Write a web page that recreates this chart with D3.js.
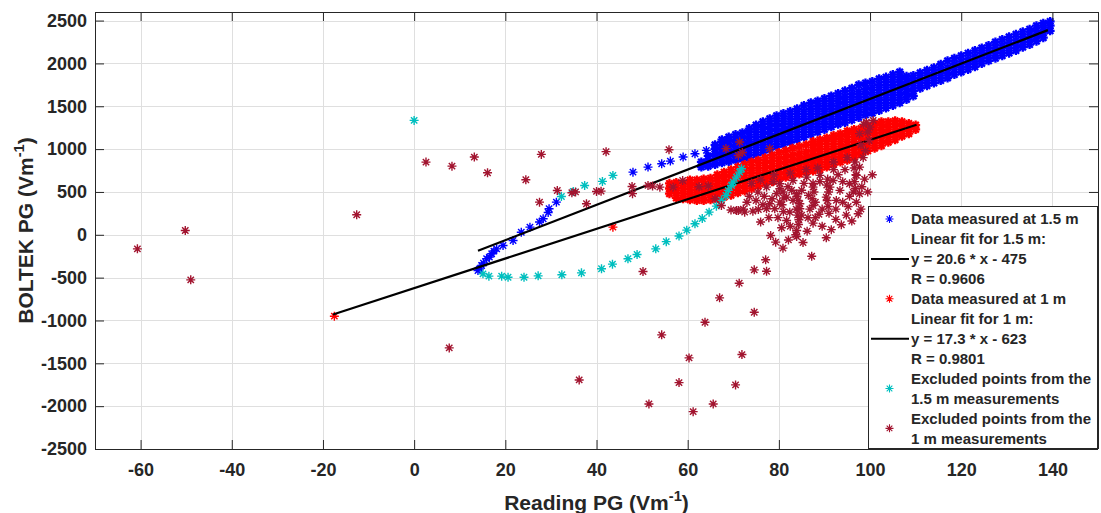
<!DOCTYPE html>
<html>
<head>
<meta charset="utf-8">
<script src="https://cdn.jsdelivr.net/npm/d3@7"></script>
<style>
    body { margin: 0; background: #fff; }
    text { font-family: "Liberation Sans", Arial, Helvetica, sans-serif; font-weight: bold; fill: #262626; }
</style>
</head>
<body>
<svg id="chart" width="1101" height="513"></svg>
<script>
// axis ticks
const xTicks = [-60, -40, -20, 0, 20, 40, 60, 80, 100, 120, 140];
const yTicks = [-2500, -2000, -1500, -1000, -500, 0, 500, 1000, 1500, 2000, 2500];

// data measured at 1.5 m: the sparse start, then the dense band as columns [x, y1, y2, ...]
const blue15Sparse = [
    [14.0, -417], [14.3, -400], [14.8, -359], [15.2, -330], [15.9, -280], [16.5, -260], [17.0, -222],
    [17.5, -190], [18.1, -164], [19.5, -125], [21.7, -67], [23.5, 30], [25.4, 89], [27.5, 150],
    [28.3, 187], [29.4, 260], [29.6, 304], [31.2, 381], [48.0, 731], [51.3, 790], [54.3, 829],
    [56.2, 860], [59.0, 907], [61.6, 946], [64.1, 985]
];
const blue15Band = [
    [63, 790, 850], [64.5, 800, 860, 920], [66, 820, 880, 940, 1000, 1050],
    [67.5, 840, 900, 960, 1020, 1080, 1110], [69, 855, 915, 975, 1035, 1095, 1140],
    [70.5, 870, 930, 990, 1050, 1110, 1170], [72, 885, 945, 1005, 1065, 1125, 1190],
    [73.5, 900, 960, 1020, 1080, 1140, 1200, 1240], [75, 930, 990, 1050, 1110, 1170, 1230, 1280],
    [76.5, 960, 1020, 1080, 1140, 1200, 1260, 1320], [78, 995, 1055, 1115, 1175, 1235, 1295, 1355],
    [79.5, 1030, 1090, 1150, 1210, 1270, 1330, 1390], [81, 1055, 1115, 1175, 1235, 1295, 1355, 1415],
    [82.5, 1080, 1140, 1200, 1260, 1320, 1380, 1440], [84, 1110, 1170, 1230, 1290, 1350, 1410, 1470],
    [85.5, 1140, 1200, 1260, 1320, 1380, 1440, 1510], [87, 1170, 1230, 1290, 1350, 1410, 1470, 1540],
    [88.5, 1200, 1260, 1320, 1380, 1440, 1500, 1560], [90, 1230, 1290, 1350, 1410, 1470, 1530, 1590],
    [91.5, 1260, 1320, 1380, 1440, 1500, 1560, 1620], [93, 1290, 1350, 1410, 1470, 1530, 1590, 1650],
    [94.5, 1310, 1370, 1430, 1490, 1550, 1610, 1680], [96, 1340, 1400, 1460, 1520, 1580, 1640, 1710],
    [97.5, 1370, 1430, 1490, 1550, 1610, 1670, 1750], [99, 1400, 1460, 1520, 1580, 1640, 1700, 1770],
    [100.5, 1420, 1480, 1540, 1600, 1660, 1720, 1790], [102, 1450, 1510, 1570, 1630, 1690, 1750, 1820],
    [103.5, 1480, 1540, 1600, 1660, 1720, 1780, 1840], [105, 1510, 1570, 1630, 1690, 1750, 1810, 1870],
    [106.5, 1540, 1600, 1660, 1720, 1780, 1840, 1900], [108, 1580, 1640, 1700, 1760, 1820, 1850],
    [109.5, 1620, 1680, 1740, 1800, 1860], [111, 1710, 1770, 1830, 1890],
    [112.5, 1740, 1800, 1860, 1920], [114, 1770, 1830, 1890, 1950], [115.5, 1800, 1860, 1920, 1990],
    [117, 1830, 1890, 1950, 2030], [118.5, 1870, 1930, 1990, 2060], [120, 1900, 1960, 2020, 2090],
    [121.5, 1930, 1990, 2050, 2120], [123, 1960, 2020, 2080, 2150], [124.5, 2000, 2060, 2120, 2180],
    [126, 2030, 2090, 2150, 2210], [127.5, 2060, 2120, 2180, 2250], [129, 2090, 2150, 2210, 2280],
    [130.5, 2120, 2180, 2240, 2310], [132, 2150, 2210, 2270, 2340], [133.5, 2190, 2250, 2310, 2370],
    [135, 2220, 2280, 2340, 2400], [136.5, 2260, 2320, 2380, 2440], [138, 2300, 2360, 2420, 2470],
    [139.5, 2380, 2440, 2490]
];

// data measured at 1 m
const red1Sparse = [[-17.5, -950], [43.6, 89]];
const red1Band = [
    [56, 480, 540, 600], [57.5, 430, 490, 550, 610], [59, 420, 480, 540, 600],
    [60.5, 410, 470, 530, 590, 640], [62, 400, 460, 520, 580, 640], [63.5, 400, 460, 520, 580, 650],
    [65, 410, 470, 530, 590, 660], [66.5, 420, 480, 540, 600, 660, 700],
    [68, 440, 500, 560, 620, 680, 730], [69.5, 460, 520, 580, 640, 700, 760],
    [71, 490, 550, 610, 670, 730, 790], [72.5, 510, 570, 630, 690, 750, 820],
    [74, 540, 600, 660, 720, 780, 850], [75.5, 570, 630, 690, 750, 810, 870],
    [77, 600, 660, 720, 780, 840, 900], [78.5, 620, 680, 740, 800, 860, 930],
    [80, 650, 710, 770, 830, 890, 960], [81.5, 670, 730, 790, 850, 910, 980],
    [83, 690, 750, 810, 870, 930, 1010], [84.5, 710, 770, 830, 890, 950, 1030],
    [86, 730, 790, 850, 910, 970, 1050], [87.5, 745, 805, 865, 925, 985, 1045, 1090],
    [89, 760, 820, 880, 940, 1000, 1060, 1110], [90.5, 790, 850, 910, 970, 1030, 1090, 1130],
    [92, 820, 880, 940, 1000, 1060, 1120, 1160], [93.5, 850, 910, 970, 1030, 1090, 1150, 1180],
    [95, 870, 930, 990, 1050, 1110, 1170, 1210], [96.5, 900, 960, 1020, 1080, 1140, 1200, 1230],
    [98, 940, 1000, 1060, 1120, 1180, 1240], [99.5, 980, 1040, 1100, 1160, 1220, 1270],
    [101, 1010, 1070, 1130, 1190, 1250, 1300], [102.5, 1040, 1100, 1160, 1220, 1280, 1320],
    [104, 1080, 1140, 1200, 1260, 1320], [105.5, 1110, 1170, 1230, 1290, 1330],
    [107, 1150, 1210, 1270, 1320], [108.5, 1180, 1240, 1300], [110, 1230, 1280]
];

// linear fits (slope, intercept, x range)
const fit15 = { slope: 20.6, intercept: -475, from: 14, to: 139 };
const fit1 = { slope: 17.3, intercept: -623, from: -17.8, to: 110.2 };

// excluded points from the 1.5 m measurements
const cyanExcl = [
    [0, 1335], [15.1, -456], [16.4, -483], [19.2, -483], [20.6, -495], [24.1, -495], [27.2, -479],
    [32.4, -467], [36.7, -444], [41.1, -397], [43.5, -343], [46.9, -280], [48.9, -230], [53.0, -164],
    [55.3, -80], [58.1, -14], [59.8, 54], [61.6, 129], [63.2, 190], [64.7, 264], [66.3, 334],
    [67.4, 401], [68.4, 459], [68.9, 518], [69.6, 576], [70.0, 614], [70.7, 673], [71.4, 731],
    [71.8, 771], [32.3, 447], [34.9, 506], [37.4, 576], [41.3, 623], [43.6, 693]
];

// excluded points from the 1 m measurements
const darkRedExcl = [
    [-60.7, -164], [-50.2, 50], [-49.0, -526], [-12.6, 234], [2.6, 848], [8.3, 801], [13.2, 907],
    [16.1, 724], [7.7, -1320], [24.5, 642], [27.9, 938], [27.5, 381], [31.4, 517], [34.6, 490],
    [35.4, 500], [37.8, 362], [40.0, 506], [41.0, 509], [42.1, 970], [47.8, 564], [47.9, 480],
    [50.2, -429], [51.3, 576], [52.3, 568], [53.9, 556], [55.9, 993], [56.8, 556], [58.9, 634],
    [36.2, -1694], [51.5, -1974], [54.3, -1168], [58.1, -1725], [60.3, -1437], [61.2, -2064],
    [63.8, -1021], [65.6, -1974], [67.0, -736], [70.5, -1752], [71.3, -565], [71.9, -1398],
    [74.6, -409], [74.6, -904], [77.1, -292], [77.3, -425], [80.9, -156], [87.2, -250], [79.3, -86],
    [78.2, -8], [80.6, 82], [83.9, 50], [83.9, -20], [81.7, 167], [84.4, 175], [86.4, 199],
    [87.5, 136], [86.2, 42], [90.4, -35], [93.7, 117], [97.4, 245], [82.4, 264], [84.6, 304],
    [71.1, 284], [72.5, 264], [74.3, 276], [77.3, 304], [79.1, 304], [80.2, 381], [78.0, 362],
    [75.4, 498], [77.3, 556], [80.2, 537], [81.7, 439], [83.1, 401], [84.6, 362], [83.9, 479],
    [87.5, 342], [90.4, 439], [92.6, 401], [93.4, 518], [96.3, 498], [97.7, 479], [95.5, 596],
    [97.0, 693], [97.7, 790], [91.9, 634], [89.0, 693], [86.1, 673], [83.1, 634], [80.2, 596],
    [87.5, 556], [91.2, 556], [67.4, 342], [69.5, 290], [84.0, 450], [84.2, 400], [83.8, 300],
    [84.1, 230], [84.3, 120], [83.7, 0], [90.7, 650], [90.5, 580], [90.9, 500], [90.6, 400],
    [90.8, 330], [96.7, 850], [96.5, 780], [96.9, 700], [96.6, 620], [96.8, 540], [87.5, 600],
    [87.7, 500], [87.3, 420], [80.9, 500], [81.1, 430], [80.7, 350], [81.0, 270], [93.0, 700],
    [94.5, 760], [92.0, 760], [88.5, 780], [86.0, 760], [82.5, 720], [79.0, 700], [76.0, 640],
    [74.0, 600], [98.5, 900], [99.0, 980], [98.0, 1050], [99.8, 1100], [97.7, 1180], [99.2, 1315],
    [100.7, 1335], [100.0, 1257], [99.5, 1200], [98.6, 1290], [71.4, 1082], [78.0, 1005],
    [68.4, 1005], [71.1, 926], [72.0, 960], [62.5, 560], [64.5, 570], [66.0, 420], [70.7, 284],
    [72.2, 300], [75.5, 295], [88.8, 240], [92.5, 180], [95.2, 330], [85.3, -90], [82.1, -60],
    [73.5, 450], [75.0, 400], [76.5, 350], [78.5, 420], [79.5, 480], [82.0, 560], [85.0, 520],
    [86.5, 460], [88.0, 380], [89.5, 300], [91.0, 250], [92.5, 300], [94.0, 380], [95.5, 450],
    [97.0, 380], [98.2, 560], [98.8, 650], [94.0, 620], [89.0, 620], [85.5, 600], [82.8, 520],
    [78.8, 620], [76.8, 450], [73.0, 380], [85.0, 230], [86.8, 300], [88.0, 200], [89.5, 100],
    [91.5, 60], [82.5, 100], [79.8, 200], [77.8, 200], [76.0, 150], [94.8, 230], [96.0, 160],
    [98.0, 300], [99.5, 500], [100.5, 700], [95.0, 900], [92.0, 850]
];

const legendEntries = [
    { kind: 'marker', color: '#0000ff', lines: ['Data measured at 1.5 m'] },
    { kind: 'line', color: '#000000', lines: ['Linear fit for 1.5 m:', 'y = 20.6 * x - 475', 'R = 0.9606'] },
    { kind: 'marker', color: '#ff0000', lines: ['Data measured at 1 m'] },
    { kind: 'line', color: '#000000', lines: ['Linear fit for 1 m:', 'y = 17.3 * x - 623', 'R = 0.9801'] },
    { kind: 'marker', color: '#00bfbf', lines: ['Excluded points from the', '1.5 m measurements'] },
    { kind: 'marker', color: '#a2142f', lines: ['Excluded points from the', '1 m measurements'] }
];

const margin = { top: 12, right: 3, bottom: 64, left: 95 };
const W = 1101, H = 513;
const width = W - margin.left - margin.right;
const height = H - margin.top - margin.bottom;
const axisColor = '#262626';

const svg = d3.select('#chart');
const g = svg.append('g').attr('transform', `translate(${margin.left},${margin.top})`);

const xScale = d3.scaleLinear().domain([-70, 150]).range([0, width]);
const yScale = d3.scaleLinear().domain([-2500, 2600]).range([height, 0]);

// grid
g.append('g').selectAll('line').data(xTicks).join('line')
    .attr('x1', d => Math.round(xScale(d)) + 0.5).attr('x2', d => Math.round(xScale(d)) + 0.5)
    .attr('y1', 0).attr('y2', height)
    .attr('stroke', '#dfdfdf').attr('stroke-width', 1);
g.append('g').selectAll('line').data(yTicks).join('line')
    .attr('y1', d => Math.round(yScale(d)) + 0.5).attr('y2', d => Math.round(yScale(d)) + 0.5)
    .attr('x1', 0).attr('x2', width)
    .attr('stroke', '#dfdfdf').attr('stroke-width', 1);

function asterisk(r) {
    const d = r * 0.7071;
    return `M${-r},0H${r}M0,${-r}V${r}M${-d},${-d}L${d},${d}M${-d},${d}L${d},${-d}`;
}
const markerPath = asterisk(4.5);

function expandColumns(cols) {
    const pts = [];
    cols.forEach(c => c.slice(1).forEach(v => pts.push([c[0], v])));
    return pts;
}

// sw: stroke width; the dense bands overlap so heavily in the original that they read as solid
function drawPoints(pts, color, sw) {
    g.append('g').selectAll('path').data(pts).join('path')
        .attr('d', markerPath)
        .attr('transform', d => `translate(${xScale(d[0])},${yScale(d[1])})`)
        .attr('fill', 'none')
        .attr('stroke', color)
        .attr('stroke-width', sw);
}

function drawFit(fit) {
    const pts = [fit.from, fit.to].map(x => [x, fit.slope * x + fit.intercept]);
    g.append('path').datum(pts)
        .attr('d', d3.line().x(d => xScale(d[0])).y(d => yScale(d[1])))
        .attr('fill', 'none').attr('stroke', '#000').attr('stroke-width', 2.2);
}

drawPoints(blue15Sparse, '#0000ff', 1.4);
drawPoints(expandColumns(blue15Band), '#0000ff', 2.3);
drawFit(fit15);
drawPoints(red1Sparse, '#ff0000', 1.4);
drawPoints(expandColumns(red1Band), '#ff0000', 2.3);
drawFit(fit1);
drawPoints(cyanExcl, '#00bfbf', 1.4);
drawPoints(darkRedExcl, '#a2142f', 1.4);

// axes (ticks inward on all four sides)
const tickLen = 9;
const fmt = d => String(d);
const bottomAxis = g.append('g').attr('transform', `translate(0,${height})`)
    .call(d3.axisBottom(xScale).tickValues(xTicks).tickFormat(fmt).tickSizeInner(-tickLen).tickSizeOuter(0).tickPadding(14));
const topAxis = g.append('g')
    .call(d3.axisTop(xScale).tickValues(xTicks).tickSizeInner(-tickLen).tickSizeOuter(0).tickFormat(''));
const leftAxis = g.append('g')
    .call(d3.axisLeft(yScale).tickValues(yTicks).tickFormat(fmt).tickSizeInner(-tickLen).tickSizeOuter(0).tickPadding(8));
const rightAxis = g.append('g').attr('transform', `translate(${width},0)`)
    .call(d3.axisRight(yScale).tickValues(yTicks).tickSizeInner(-tickLen).tickSizeOuter(0).tickFormat(''));

[bottomAxis, topAxis, leftAxis, rightAxis].forEach(a => {
    a.selectAll('.domain').attr('stroke', axisColor);
    a.selectAll('.tick line').attr('stroke', axisColor);
    a.selectAll('.tick text').attr('fill', axisColor)
        .style('font-size', '18px').style('font-weight', 'bold')
        .style('font-family', '"Liberation Sans", Arial, sans-serif');
});
// the box spans the whole axis range
topAxis.select('.domain').attr('d', `M0,0.5H${width}`);
bottomAxis.select('.domain').attr('d', `M0,0.5H${width}`);
leftAxis.select('.domain').attr('d', `M0.5,0V${height}`);
rightAxis.select('.domain').attr('d', `M0.5,0V${height}`);

// axis labels with superscript
function labelWithSup(sel, main, sup, tail, size) {
    sel.append('tspan').text(main);
    sel.append('tspan').text(sup).style('font-size', (size * 0.7) + 'px').attr('dy', -size * 0.42);
    sel.append('tspan').text(tail).attr('dy', size * 0.42);
}

const xl = svg.append('text')
    .attr('x', margin.left + width / 2)
    .attr('y', 510)
    .attr('text-anchor', 'middle')
    .style('font-size', '21px');
labelWithSup(xl, 'Reading PG (Vm', '-1', ')', 21);

const yl = svg.append('text')
    .attr('transform', `translate(33,${margin.top + height / 2}) rotate(-90)`)
    .attr('text-anchor', 'middle')
    .style('font-size', '21px');
labelWithSup(yl, 'BOLTEK PG (Vm', '-1', ')', 21);

// legend
const legX = 868, legY = 206, legW = 1097 - legX + 0.5, legH = 448 - legY + 0.5;
const lineStep = 19.94, firstLine = 219;
const leg = svg.append('g');
leg.append('rect')
    .attr('x', legX + 0.5).attr('y', legY + 0.5)
    .attr('width', legW - 0.5).attr('height', legH - 0.5)
    .attr('fill', '#fff').attr('stroke', axisColor).attr('stroke-width', 1);

let lineIdx = 0;
legendEntries.forEach(e => {
    const startIdx = lineIdx;
    e.lines.forEach(t => {
        leg.append('text')
            .attr('x', 911)
            .attr('y', firstLine + lineIdx * lineStep + 5.4)
            .style('font-size', '15px')
            .text(t);
        lineIdx++;
    });
    const cy = firstLine + (startIdx + (e.lines.length - 1) / 2) * lineStep;
    if (e.kind === 'marker') {
        leg.append('path').attr('d', asterisk(4))
            .attr('transform', `translate(889.5,${cy})`)
            .attr('fill', 'none').attr('stroke', e.color).attr('stroke-width', 1.1);
    } else {
        leg.append('line')
            .attr('x1', 871).attr('x2', 909).attr('y1', cy).attr('y2', cy)
            .attr('stroke', e.color).attr('stroke-width', 2);
    }
});
</script>
</body>
</html>
